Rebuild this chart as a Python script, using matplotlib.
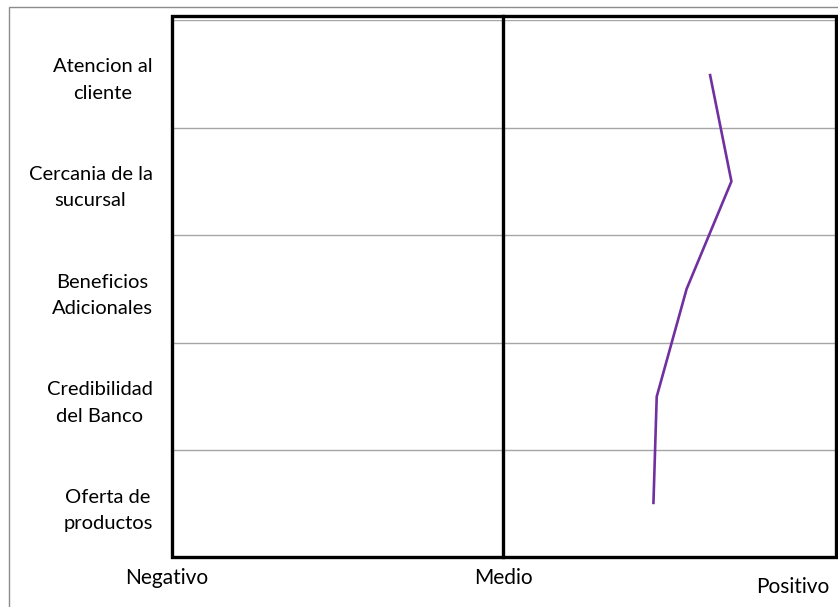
import matplotlib
matplotlib.use('Agg')
import matplotlib.pyplot as plt
from matplotlib.patches import Rectangle
from matplotlib.lines import Line2D

plt.rcParams['font.family'] = ['Lato', 'DejaVu Sans']

# data
categories = ['Atencion al\ncliente', 'Cercania de la\nsucursal', 'Beneficios\nAdicionales',
              'Credibilidad\ndel Banco', 'Oferta de\nproductos']
scores = [0.62, 0.685, 0.55, 0.46, 0.45]   # -1 = Negativo, 0 = Medio, 1 = Positivo
scale_labels = ['Negativo', 'Medio', 'Positivo']

W, H = 838, 607
fig = plt.figure(figsize=(W / 100, H / 100), dpi=100)

# plot area in pixels
x0, x1, y0, y1 = 172, 836, 20, 558
ax = fig.add_axes([x0 / W, 1 - y1 / H, (x1 - x0) / W, (y1 - y0) / H])

ypos = list(range(len(categories)))
ax.plot(scores, ypos, color='#7030A0', lw=1.9, solid_capstyle='butt')
ax.set_xlim(-1, 1)
ax.set_ylim(len(categories) - 0.5, -0.5)

for b in [i - 0.5 for i in range(len(categories) + 1)]:
    ax.axhline(b, color='#A6A6A6', lw=1, zorder=0)

ax.set_xticks([])
ax.set_yticks(ypos)
ax.set_yticklabels(categories, fontsize=14.5, linespacing=1.68, multialignment='center')
ax.tick_params(axis='y', length=0, pad=14)
for s in ax.spines.values():
    s.set_visible(False)

# black frame and middle line (Excel drawn shapes)
fig.add_artist(Rectangle((172 / W, 1 - 557 / H), (836 - 172) / W, (557 - 16) / H,
                         transform=fig.transFigure, fill=False, ec='black', lw=2.4))
fig.add_artist(Line2D([503 / W, 503 / W], [1 - 557 / H, 1 - 16 / H],
                      transform=fig.transFigure, color='black', lw=2.4))

# chart border
fig.add_artist(Rectangle((9 / W, -0.01), 1.0, 1 - 7 / H + 0.01,
                         transform=fig.transFigure, fill=False, ec='#8C8C8C', lw=1))

# scale labels
fig.text(167 / W, 1 - 578 / H, scale_labels[0], ha='center', va='center', fontsize=15)
fig.text(503 / W, 1 - 578 / H, scale_labels[1], ha='center', va='center', fontsize=15)
fig.text(793 / W, 1 - 587 / H, scale_labels[2], ha='center', va='center', fontsize=15)

fig.savefig('out.png', dpi=100)
